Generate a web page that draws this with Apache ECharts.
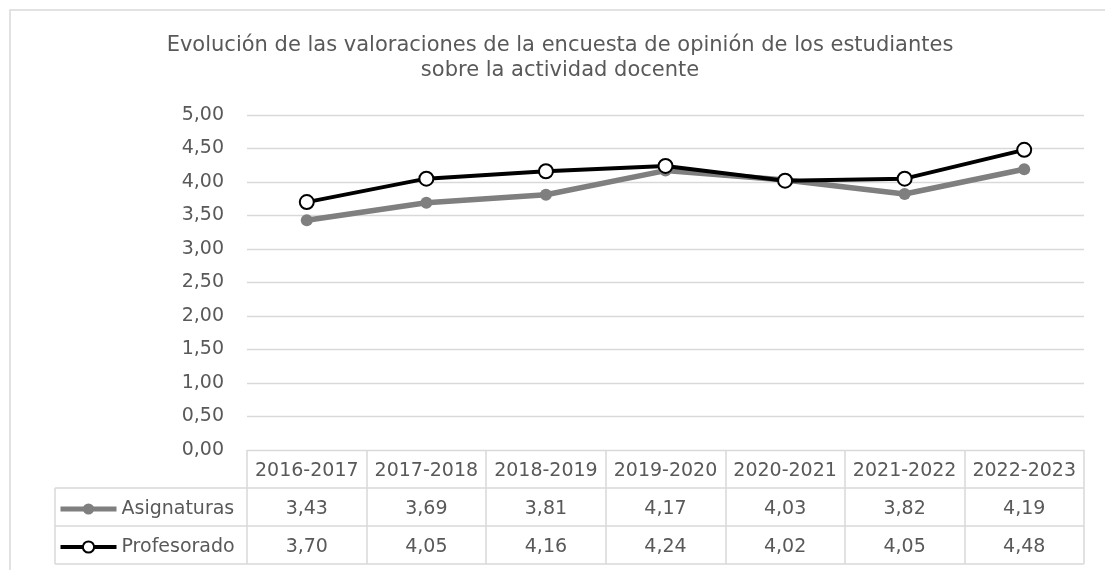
<!DOCTYPE html>
<html lang="es">
<head>
<meta charset="UTF-8">
<title>Valoraciones</title>
<script src="https://cdn.jsdelivr.net/npm/echarts@6/dist/echarts.min.js"></script>
</head>
<body style="margin:0;background:#fff">
<div id="dom" style="width:1105px;height:570px"></div>
<script>
var cursos = ['2016-2017', '2017-2018', '2018-2019', '2019-2020', '2020-2021', '2021-2022', '2022-2023'];
var asignaturas = [3.43, 3.69, 3.81, 4.17, 4.03, 3.82, 4.19];
var profesorado = [3.70, 4.05, 4.16, 4.24, 4.02, 4.05, 4.48];
var yMin = 0, yMax = 5, yStep = 0.5;

function coma(v) {
    return v.toFixed(2).replace('.', ',');
}

var dom = document.getElementById('dom');
var myCharts = echarts.init(dom);
var gris = '#d9d9d9';
var texto = '#595959';
var fuente = 'DejaVu Sans';

var option = {
    animation: false,
    title: {
        text: 'Evolución de las valoraciones de la encuesta de opinión de los estudiantes\nsobre la actividad docente',
        left: 560,
        textAlign: 'center',
        top: 28,
        padding: [5, 0, 5, 0],
        textStyle: {color: texto, fontSize: 21, fontWeight: 'normal', fontFamily: fuente, lineHeight: 25}
    },
    legend: {
        orient: 'vertical',
        left: 53,
        top: 494,
        itemWidth: 56,
        itemHeight: 14,
        itemGap: 18,
        textStyle: {color: texto, fontSize: 19, fontFamily: fuente, lineHeight: 20},
        data: [
            {name: 'Asignaturas', lineStyle: {width: 5, color: '#7f7f7f'}},
            {name: 'Profesorado', lineStyle: {width: 4, color: '#000'}}
        ]
    },
    grid: {left: 247, right: 21, top: 115, bottom: 120, containLabel: false, outerBoundsMode: 'none'},
    xAxis: {
        type: 'category',
        data: cursos,
        boundaryGap: true,
        axisLine: {lineStyle: {color: gris, width: 1}},
        axisTick: {show: true, interval: 0, length: 114, lineStyle: {color: gris, width: 1.5}},
        axisLabel: {
            interval: 0,
            margin: 2,
            color: texto,
            fontSize: 19,
            fontFamily: fuente,
            lineHeight: 38,
            formatter: function (value, idx) {
                return value + '\n' + coma(asignaturas[idx]) + '\n' + coma(profesorado[idx]);
            }
        }
    },
    yAxis: {
        type: 'value',
        min: yMin,
        max: yMax,
        interval: yStep,
        axisLine: {show: false},
        axisTick: {show: false},
        splitLine: {lineStyle: {color: gris, width: 1.3}},
        axisLabel: {color: texto, fontSize: 19, fontFamily: fuente, margin: 23, formatter: coma}
    },
    series: [
        {
            name: 'Asignaturas',
            type: 'line',
            data: asignaturas,
            symbol: 'circle',
            symbolSize: 12,
            lineStyle: {color: '#7f7f7f', width: 5.5},
            itemStyle: {color: '#7f7f7f'},
            z: 2
        },
        {
            name: 'Profesorado',
            type: 'line',
            data: profesorado,
            symbol: 'circle',
            symbolSize: 14,
            lineStyle: {color: '#000', width: 4},
            itemStyle: {color: '#fff', borderColor: '#000', borderWidth: 2},
            z: 3
        }
    ],
    graphic: [
        {type: 'rect', shape: {x: 10, y: 10, width: 1200, height: 700}, style: {fill: 'none', stroke: gris, lineWidth: 1.5}, silent: true},
        {type: 'line', shape: {x1: 55, y1: 488, x2: 1084, y2: 488}, style: {stroke: gris, lineWidth: 1.5}},
        {type: 'line', shape: {x1: 55, y1: 526, x2: 1084, y2: 526}, style: {stroke: gris, lineWidth: 1.5}},
        {type: 'line', shape: {x1: 55, y1: 564, x2: 1084, y2: 564}, style: {stroke: gris, lineWidth: 1.5}},
        {type: 'line', shape: {x1: 55, y1: 488, x2: 55, y2: 564}, style: {stroke: gris, lineWidth: 1.5}}
    ]
};
myCharts.setOption(option);
</script>
</body>
</html>
